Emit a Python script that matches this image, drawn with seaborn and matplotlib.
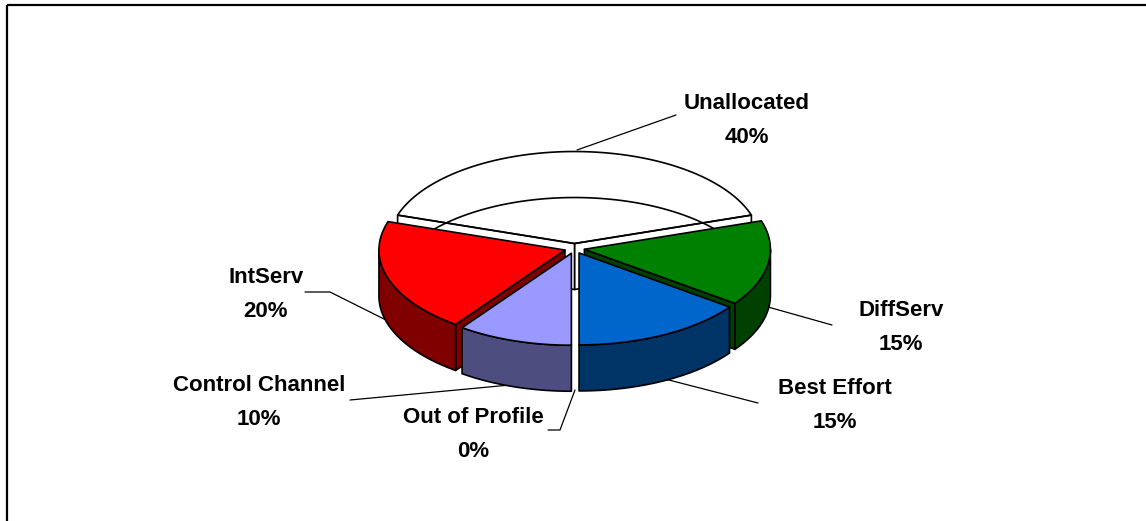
import numpy as np
import matplotlib.pyplot as plt
from matplotlib.patches import Polygon, Rectangle
import seaborn as sns

# data
categories = ["Unallocated", "DiffServ", "Best Effort", "Out of Profile", "Control Channel", "IntServ"]
values = [40, 15, 15, 0, 10, 20]

# look of the slices
top_colors = ["white", "#008000", "#0066CC", "#9999FF", "#9999FF", "#FF0000"]
side_colors = ["white", "#004000", "#003366", "#4D4D80", "#4D4D80", "#800000"]
draw_order = [0, 1, 5, 2, 3, 4]  # back to front

# label centres and leader lines, in pixels
label_pos = [(747, 120.5), (901, 327.5), (835, 405.5), (473, 434.5), (259, 402.5), (266, 294.5)]
leaders = [
    [(577, 150), (676, 115)],
    [(768, 307), (832, 325)],
    [(665, 379), (758, 403)],
    [(575, 390), (560, 430), (548, 430)],
    [(510, 385), (350, 400)],
    [(390, 322), (330, 292), (305, 292)],
]

# pie geometry, in pixels
CX, CY = 574.5, 248.5
RX, RY = 186, 92
DEPTH = 46
EXPLODE = 0.054
START = 162  # degrees, the first slice runs clockwise from here

sns.set_theme(style="white")
plt.rcParams["font.family"] = ["Liberation Sans", "DejaVu Sans"]

fig = plt.figure(figsize=(11.46, 5.21), dpi=100, facecolor="white")
ax = fig.add_axes([0, 0, 1, 1])
ax.set_xlim(0, 1146)
ax.set_ylim(521, 0)
ax.axis("off")

# chart area frame, runs off the picture at right and bottom
ax.add_patch(Rectangle((7, 5), 1300, 700, fill=False, ec="black", lw=1.6))


def rim(ox, oy, angles, dy=0):
    rad = np.radians(angles)
    return np.column_stack([ox + RX * np.cos(rad), oy - RY * np.sin(rad) + dy])


def poly(pts, color, fill=True, z=2):
    ax.add_patch(Polygon(pts, closed=True, fill=fill, fc=color, ec="black", lw=1.2,
                         joinstyle="round", zorder=z))


def radial_face(ox, oy, ang, color):
    corner = rim(ox, oy, [ang])[0]
    poly([(ox, oy), corner, corner + (0, DEPTH), (ox, oy + DEPTH)], color)


# slice angles from the values
ends = START - 3.6 * np.cumsum(values)
starts = np.r_[START, ends[:-1]]

for i in draw_order:
    if values[i] == 0:
        continue
    a1, a2 = starts[i], ends[i]  # a1 is the counter clockwise end, a2 the clockwise one
    mid = np.radians((a1 + a2) / 2)
    ox = CX + EXPLODE * RX * np.cos(mid)
    oy = CY - EXPLODE * RY * np.sin(mid)
    arc = np.linspace(a1, a2, 120)

    # side faces only where they look to the viewer
    if np.sin(np.radians(a2 - 90)) < -1e-6:
        radial_face(ox, oy, a2, side_colors[i])
    if np.sin(np.radians(a1 + 90)) < -1e-6:
        radial_face(ox, oy, a1, side_colors[i])

    # outer wall, lower half of the ellipse
    front = arc[np.sin(np.radians(arc)) <= 0]
    if len(front) > 1:
        upper = rim(ox, oy, front)
        lower = rim(ox, oy, front, DEPTH)
        poly(np.vstack([upper, lower[::-1]]), side_colors[i])

    if i == 0:
        # empty slice: see-through top with the far bottom rim showing
        poly(np.vstack([[(ox, oy)], rim(ox, oy, arc)]), "none", fill=False)
        back = rim(ox, oy, arc, DEPTH)
        ax.plot(back[:, 0], back[:, 1], color="black", lw=1.2, zorder=2)
    else:
        poly(np.vstack([[(ox, oy)], rim(ox, oy, arc)]), top_colors[i])

for pts in leaders:
    xs, ys = zip(*pts)
    ax.plot(xs, ys, color="black", lw=0.9, zorder=1)

for name, val, (x, y) in zip(categories, values, label_pos):
    ax.text(x, y, f"{name}\n{val}%", ha="center", va="center", fontsize=16,
            fontweight="bold", color="black", linespacing=1.78, zorder=5)

fig.savefig("out.png", dpi=100)
